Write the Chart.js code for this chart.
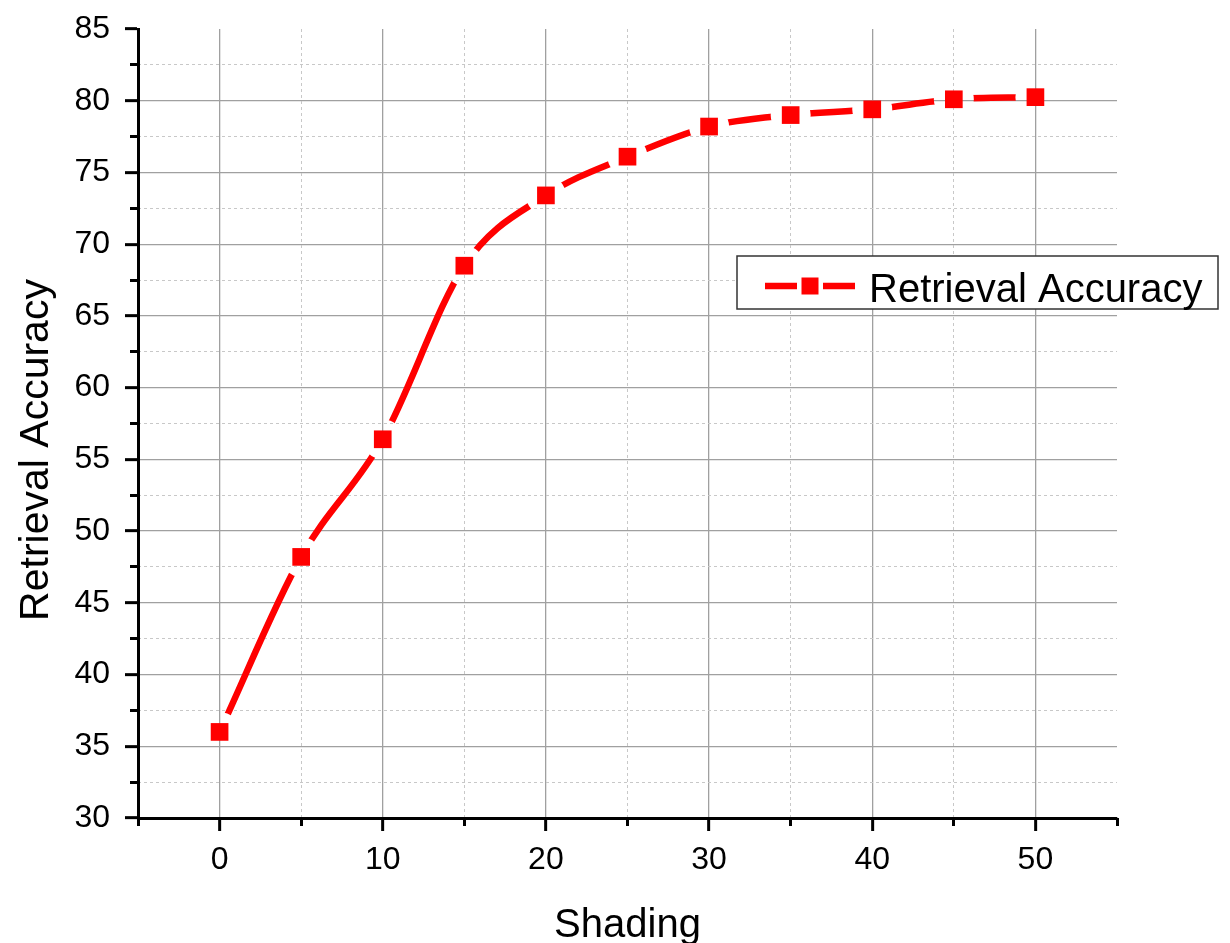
<!DOCTYPE html>
<html><head><meta charset="utf-8">
<script src="https://cdn.jsdelivr.net/npm/chart.js@4"></script>
<style>html,body{margin:0;padding:0;background:#fff;}#wrap{width:1230px;height:943px;}</style>
</head><body><div id="wrap"><canvas id="c" width="1230" height="943"></canvas></div>
<script>
const shading = [0, 5, 10, 15, 20, 25, 30, 35, 40, 45, 50];
const accuracy = [36.0, 48.2, 56.4, 68.5, 73.4, 76.1, 78.2, 79.0, 79.4, 80.1, 80.25];
const xMajorTicks = [0, 10, 20, 30, 40, 50];
const xMinorTicks = [-5, 5, 15, 25, 35, 45, 55];
const yMajorTicks = [30, 35, 40, 45, 50, 55, 60, 65, 70, 75, 80, 85];
const yMinorTicks = [32.5, 37.5, 42.5, 47.5, 52.5, 57.5, 62.5, 67.5, 72.5, 77.5, 82.5];
const seriesLabel = 'Retrieval Accuracy';
const xTitle = 'Shading';
const yTitle = 'Retrieval Accuracy';

const FONT = '"Liberation Sans", Arial, Helvetica, sans-serif';
const RED = '#ff0000';
const MAJOR_GRID = '#a0a0a0';
const MINOR_GRID = '#c8c8c8';
const CLEAR = 'rgba(0,0,0,0)';
const GAP = 20;

const pts = shading.map((x, i) => ({x: x, y: accuracy[i]}));

const gapPlugin = {
  id: 'gap',
  beforeDatasetDraw(chart, args) {
    if (args.index !== 1) return;
    const ctx = chart.ctx;
    const marks = chart.getDatasetMeta(0).data;
    ctx.save();
    ctx.beginPath();
    ctx.rect(0, 0, chart.width, chart.height);
    marks.forEach(p => { ctx.moveTo(p.x + GAP, p.y); ctx.arc(p.x, p.y, GAP, 0, Math.PI * 2); });
    ctx.clip('evenodd');
  },
  afterDatasetDraw(chart, args) {
    if (args.index === 1) chart.ctx.restore();
  }
};

const decorPlugin = {
  id: 'decor',
  afterDraw(chart) {
    const ctx = chart.ctx;
    ctx.save();
    ctx.fillStyle = '#000';
    ctx.font = '40px ' + FONT;
    ctx.textAlign = 'center';
    ctx.textBaseline = 'alphabetic';
    const ca = chart.chartArea;
    ctx.fillText(xTitle, (ca.left + ca.right) / 2, 937);
    ctx.save();
    ctx.font = '41px ' + FONT;
    ctx.translate(48, 450);
    ctx.rotate(-Math.PI / 2);
    ctx.fillText(yTitle, 0, 0);
    ctx.restore();
    // legend
    ctx.fillStyle = '#fff';
    ctx.fillRect(737, 256, 481, 53);
    ctx.strokeStyle = '#333';
    ctx.lineWidth = 1.5;
    ctx.strokeRect(737, 256, 481, 53);
    ctx.strokeStyle = RED;
    ctx.lineWidth = 6.5;
    ctx.beginPath();
    ctx.moveTo(765, 286); ctx.lineTo(797, 286);
    ctx.moveTo(823, 286); ctx.lineTo(855, 286);
    ctx.stroke();
    ctx.fillStyle = RED;
    ctx.fillRect(801.5, 277.5, 17, 17);
    ctx.fillStyle = '#000';
    ctx.textAlign = 'left';
    ctx.fillText(seriesLabel, 869, 302);
    ctx.restore();
  }
};

const edge = (vals) => (c) => (c.tick && (c.tick.value === vals[0] || c.tick.value === vals[1]));

new Chart(document.getElementById('c'), {
  type: 'line',
  data: {
    datasets: [
      {
        label: seriesLabel,
        data: pts,
        showLine: false,
        pointStyle: 'rect',
        pointRadius: 12.5,
        pointHoverRadius: 12.5,
        pointBackgroundColor: RED,
        pointBorderWidth: 0,
        borderColor: RED,
        backgroundColor: RED
      },
      {
        label: seriesLabel + ' line',
        data: pts,
        borderColor: RED,
        borderWidth: 6.5,
        pointRadius: 0,
        pointHoverRadius: 0,
        fill: false,
        cubicInterpolationMode: 'monotone'
      }
    ]
  },
  options: {
    responsive: false,
    animation: false,
    devicePixelRatio: 1,
    layout: {padding: {left: 0, top: 29, right: 113, bottom: 0}},
    plugins: {legend: {display: false}, tooltip: {enabled: false}, title: {display: false}},
    scales: {
      x: {
        type: 'linear', position: 'bottom', min: -5, max: 55,
        afterBuildTicks: s => { s.ticks = xMajorTicks.map(v => ({value: v})); },
        afterFit: s => { s.height = 125; s.paddingLeft = 0; s.paddingRight = 0; },
        ticks: {font: {size: 32, family: FONT}, color: '#000', padding: 10, maxRotation: 0, autoSkip: false},
        grid: {color: MAJOR_GRID, lineWidth: 1.3, tickLength: 13, tickColor: '#000', tickWidth: 3},
        border: {display: true, color: '#000', width: 3}
      },
      y: {
        type: 'linear', position: 'left', min: 30, max: 85,
        afterBuildTicks: s => { s.ticks = yMajorTicks.map(v => ({value: v})); },
        afterFit: s => { s.width = 138; s.paddingTop = 0; s.paddingBottom = 0; },
        ticks: {font: {size: 32, family: FONT}, color: '#000', padding: 15, autoSkip: false},
        grid: {color: c => edge([30, 85])(c) ? CLEAR : MAJOR_GRID, lineWidth: 1.3, tickLength: 13, tickColor: '#000', tickWidth: 3},
        border: {display: true, color: '#000', width: 3}
      },
      xMinor: {
        type: 'linear', axis: 'x', position: {y: 30}, min: -5, max: 55,
        afterBuildTicks: s => { s.ticks = xMinorTicks.map(v => ({value: v})); },
        afterFit: s => { s.height = 0; s.paddingLeft = 0; s.paddingRight = 0; },
        ticks: {display: false},
        grid: {color: c => edge([-5, 55])(c) ? CLEAR : MINOR_GRID, lineWidth: 1, tickLength: 8, tickColor: '#000', tickWidth: 3},
        border: {display: false, dash: [3, 3]}
      },
      yMinor: {
        type: 'linear', axis: 'y', position: {x: -5}, min: 30, max: 85,
        afterBuildTicks: s => { s.ticks = yMinorTicks.map(v => ({value: v})); },
        afterFit: s => { s.width = 0; s.paddingTop = 0; s.paddingBottom = 0; },
        ticks: {display: false},
        grid: {color: MINOR_GRID, lineWidth: 1, tickLength: 8, tickColor: '#000', tickWidth: 3},
        border: {display: false, dash: [3, 3]}
      }
    }
  },
  plugins: [gapPlugin, decorPlugin]
});
</script>
</body></html>
